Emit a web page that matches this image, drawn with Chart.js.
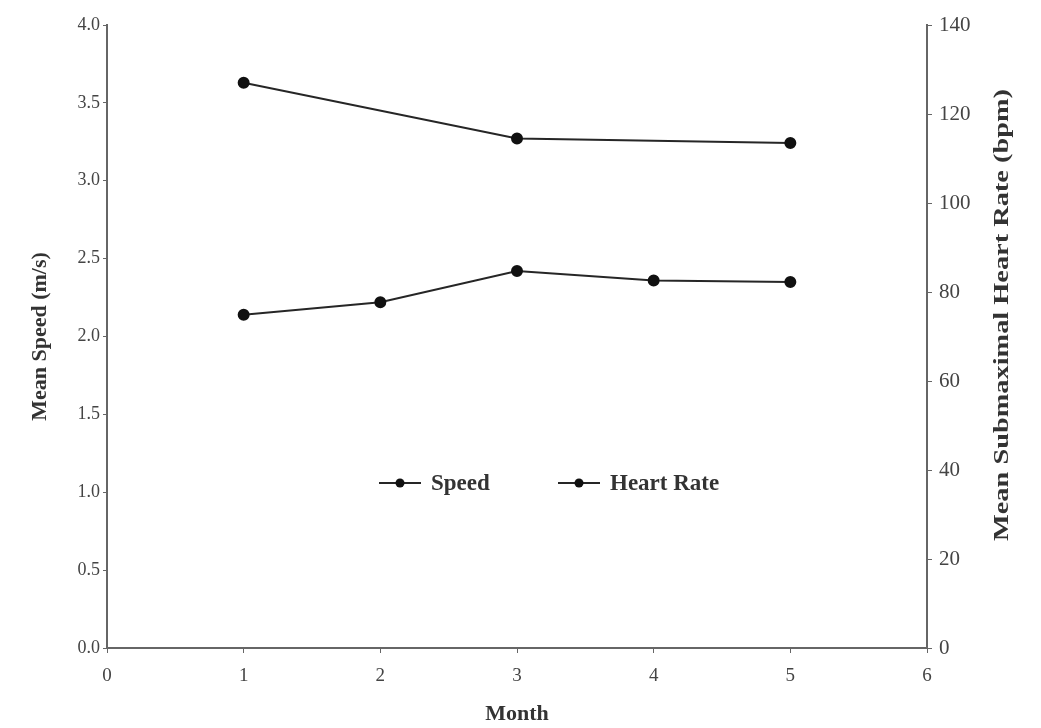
<!DOCTYPE html>
<html>
<head>
<meta charset="utf-8">
<script src="https://cdn.jsdelivr.net/npm/chart.js@4"></script>
<style>
  html, body { margin: 0; padding: 0; background: #fff; }
  #wrap { width: 1041px; height: 728px; }
</style>
</head>
<body>
<div id="wrap"><canvas id="chart" width="1041" height="728"></canvas></div>
<script>
// data
var speedMonths = [1, 2, 3, 4, 5];
var speedValues = [2.14, 2.22, 2.42, 2.36, 2.35];
var hrMonths = [1, 3, 5];
var hrValues = [127, 114.5, 113.5];
var monthTicks = [0, 1, 2, 3, 4, 5, 6];

var serif = "'Liberation Serif', 'DejaVu Serif', serif";
var lineColor = "#262626";
var axisColor = "#666";
var textColor = "#444";

function toPoints(xs, ys) {
  return xs.map(function (x, i) { return { x: x, y: ys[i] }; });
}

// legend + right title drawn by hand (right title reads bottom to top)
var extras = {
  id: "extras",
  afterDraw: function (chart) {
    var ctx = chart.ctx;
    ctx.save();
    ctx.fillStyle = "#333";
    ctx.font = "bold 21px " + serif;
    ctx.textAlign = "center";
    ctx.textBaseline = "middle";
    ctx.translate(1003, 315);
    ctx.rotate(-Math.PI / 2);
    ctx.scale(1.35, 1);
    ctx.fillText("Mean Submaximal Heart Rate (bpm)", 0, 0);
    ctx.restore();

    var items = [
      { label: "Speed", x: 379 },
      { label: "Heart Rate", x: 558 }
    ];
    var y = 483;
    ctx.save();
    items.forEach(function (it) {
      ctx.strokeStyle = lineColor;
      ctx.lineWidth = 2;
      ctx.beginPath();
      ctx.moveTo(it.x, y);
      ctx.lineTo(it.x + 42, y);
      ctx.stroke();
      ctx.fillStyle = "#111";
      ctx.beginPath();
      ctx.arc(it.x + 21, y, 4.5, 0, Math.PI * 2);
      ctx.fill();
      ctx.fillStyle = "#333";
      ctx.font = "bold 23px " + serif;
      ctx.textAlign = "left";
      ctx.textBaseline = "middle";
      ctx.fillText(it.label, it.x + 52, y + 1);
    });
    ctx.restore();
  }
};

new Chart(document.getElementById("chart"), {
  type: "line",
  data: {
    datasets: [
      {
        label: "Speed",
        data: toPoints(speedMonths, speedValues),
        yAxisID: "y",
        borderColor: lineColor,
        borderWidth: 2,
        pointRadius: 5,
        pointBackgroundColor: "#111",
        pointBorderColor: "#111",
        tension: 0
      },
      {
        label: "Heart Rate",
        data: toPoints(hrMonths, hrValues),
        yAxisID: "y2",
        borderColor: lineColor,
        borderWidth: 2,
        pointRadius: 5,
        pointBackgroundColor: "#111",
        pointBorderColor: "#111",
        tension: 0
      }
    ]
  },
  options: {
    responsive: false,
    animation: false,
    layout: { padding: { top: 25 } },
    plugins: {
      legend: { display: false },
      tooltip: { enabled: false }
    },
    scales: {
      x: {
        type: "linear",
        min: 0,
        max: 6,
        afterFit: function (s) { s.height = 80; },
        afterBuildTicks: function (s) {
          s.ticks = monthTicks.map(function (v) { return { value: v }; });
        },
        border: { color: axisColor, width: 2 },
        grid: { display: true, drawOnChartArea: false, tickLength: 5, color: axisColor },
        ticks: { color: textColor, padding: 12, font: { family: serif, size: 19 } },
        title: {
          display: true,
          text: "Month",
          color: "#333",
          padding: { top: 0, bottom: 0 },
          font: { family: serif, size: 22, weight: "bold" }
        }
      },
      y: {
        position: "left",
        min: 0,
        max: 4,
        afterFit: function (s) { s.width = 107; },
        border: { color: axisColor, width: 2 },
        grid: { display: true, drawOnChartArea: false, tickLength: 4, color: axisColor },
        ticks: {
          stepSize: 0.5,
          color: textColor,
          padding: 3,
          font: { family: serif, size: 18 },
          callback: function (v) { return v.toFixed(1); }
        },
        title: {
          display: true,
          text: "Mean Speed (m/s)",
          color: "#333",
          padding: { top: 27, bottom: 0 },
          font: { family: serif, size: 22, weight: "bold" }
        }
      },
      y2: {
        position: "right",
        min: 0,
        max: 140,
        afterFit: function (s) { s.width = 114; },
        border: { color: axisColor, width: 2 },
        grid: { display: true, drawOnChartArea: false, tickLength: 5, color: axisColor },
        ticks: { stepSize: 20, color: textColor, padding: 7, font: { family: serif, size: 21 } }
      }
    }
  },
  plugins: [extras]
});
</script>
</body>
</html>
